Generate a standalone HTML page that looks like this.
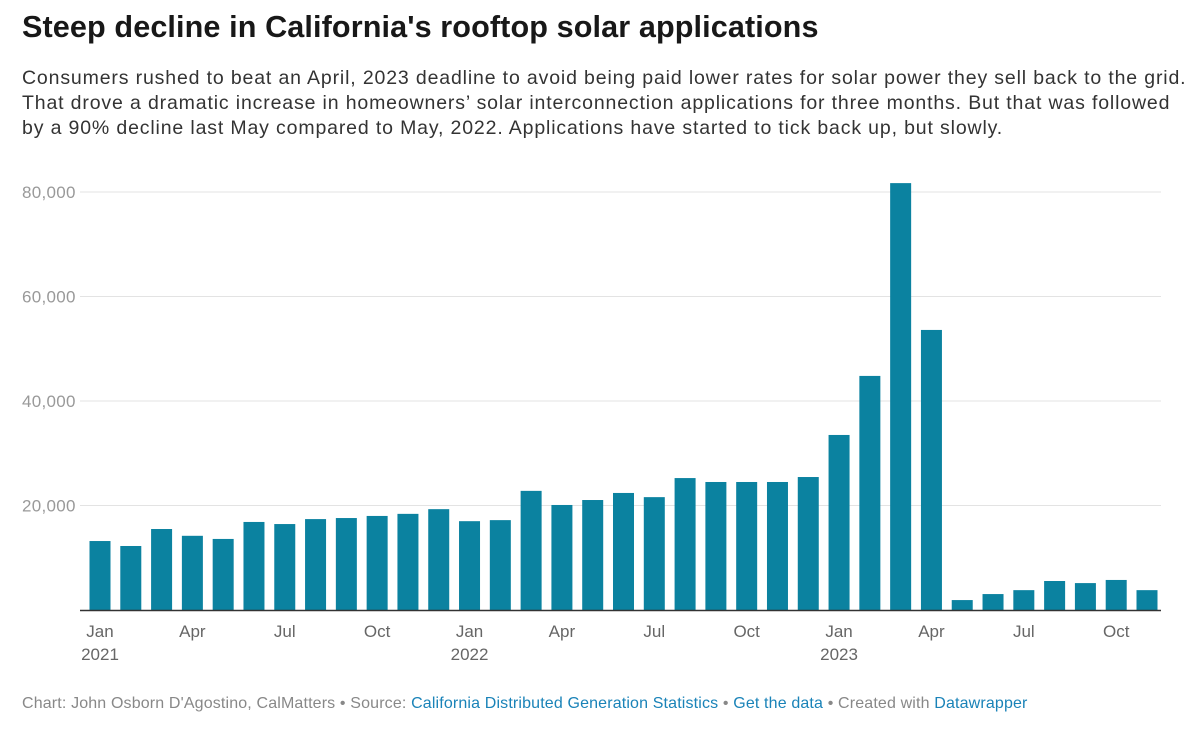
<!DOCTYPE html>
<html><head><meta charset="utf-8"><style>
body{margin:0;width:1200px;height:733px;background:#fff;font-family:"Liberation Sans",sans-serif;overflow:hidden;position:relative}
h1{position:absolute;left:22px;top:10px;margin:0;font-size:30.6px;font-weight:bold;color:#181818;letter-spacing:0.1px;white-space:nowrap}
.desc{position:absolute;left:22px;top:66px;font-size:19.5px;line-height:24.8px;color:#333;letter-spacing:0.85px;white-space:nowrap}
.foot{position:absolute;left:22px;top:695px;font-size:16px;color:#888;white-space:nowrap;letter-spacing:0.15px}
.foot a{color:#1a83b8;text-decoration:none}
svg{position:absolute;left:0;top:0}
</style></head><body>
<h1>Steep decline in California's rooftop solar applications</h1>
<div class="desc">Consumers rushed to beat an April, 2023 deadline to avoid being paid lower rates for solar power they sell back to the grid.<br>That drove a dramatic increase in homeowners’ solar interconnection applications for three months. But that was followed<br>by a 90% decline last May compared to May, 2022. Applications have started to tick back up, but slowly.</div>
<svg id="chart" width="1200" height="733"></svg>
<div class="foot">Chart: John Osborn D'Agostino, CalMatters • Source: <a>California Distributed Generation Statistics</a> • <a>Get the data</a> • Created with <a>Datawrapper</a></div>
<script>
const values=[13200,12250,15500,14200,13600,16850,16450,17400,17600,18000,18400,19300,17000,17200,22800,20100,21050,22400,21600,25250,24500,24500,24500,25450,33500,44800,81700,53600,1900,3050,3800,5550,5150,5750,3800];
const yTicks=[20000,40000,60000,80000];
const yTickLabels=["20,000","40,000","60,000","80,000"];
const xLabelIdx=[0,3,6,9,12,15,18,21,24,27,30,33];
const xLabels=["Jan","Apr","Jul","Oct","Jan","Apr","Jul","Oct","Jan","Apr","Jul","Oct"];
const yearIdx=[0,12,24];
const yearLabels=["2021","2022","2023"];
const svg=document.getElementById('chart');
const NS='http://www.w3.org/2000/svg';
const y0=610,yTop=192,x0=100,step=(1147-100)/34,bw=21;
const y=v=>y0-(v/80000)*(y0-yTop);
const x=i=>x0+i*step;
function mk(t,a){const e=document.createElementNS(NS,t);for(const k in a)e.setAttribute(k,a[k]);svg.appendChild(e);return e;}
yTicks.forEach((v,i)=>{
 const l=mk('line',{x1:80,x2:1161,y1:y(v),y2:y(v),stroke:'#e3e3e3','stroke-width':1});
 
 
 const t=mk('text',{x:22,y:y(v)+6,'font-size':17,fill:'#999','font-family':'Liberation Sans','letter-spacing':0.3});
 t.textContent=yTickLabels[i];
 
 
});
values.forEach((v,i)=>{
 const r=mk('rect',{x:x(i)-bw/2,y:y(v),width:bw,height:y0-y(v),fill:'#0b82a0'});
 
 
});
const ax=mk('line',{x1:80,x2:1161,y1:y0+0.5,y2:y0+0.5,stroke:'#333','stroke-width':1.5});


xLabelIdx.forEach((idx,i)=>{
 const t=mk('text',{x:x(idx),y:637,'font-size':17,fill:'#666','text-anchor':'middle','font-family':'Liberation Sans'});
 t.textContent=xLabels[i];
 
 
});
yearIdx.forEach((idx,i)=>{
 const t=mk('text',{x:x(idx),y:660,'font-size':17,fill:'#666','text-anchor':'middle','font-family':'Liberation Sans'});
 t.textContent=yearLabels[i];
 
 
});
</script>
</body></html>
